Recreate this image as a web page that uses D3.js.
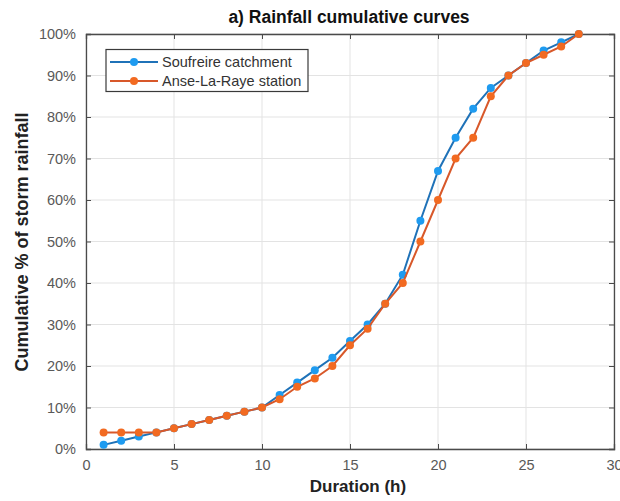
<!DOCTYPE html>
<html>
<head>
<meta charset="utf-8">
<script src="https://cdn.jsdelivr.net/npm/d3@7"></script>
<style>
  html, body { margin: 0; padding: 0; background: #fff; }
  svg { display: block; font-family: "Liberation Sans", Arial, sans-serif; }
</style>
</head>
<body>
<svg id="chart" width="620" height="501"></svg>
<script>
// Duration in hours
const hours = [1,2,3,4,5,6,7,8,9,10,11,12,13,14,15,16,17,18,19,20,21,22,23,24,25,26,27,28];
// Cumulative % of storm rainfall
const soufreire = [1,2,3,4,5,6,7,8,9,10,13,16,19,22,26,30,35,42,55,67,75,82,87,90,93,96,98,100];
const anseLaRaye = [4,4,4,4,5,6,7,8,9,10,12,15,17,20,25,29,35,40,50,60,70,75,85,90,93,95,97,100];
const seriesNames = ["Soufreire catchment", "Anse-La-Raye station"];
const xTicks = [0,5,10,15,20,25,30];
const yTicks = [0,10,20,30,40,50,60,70,80,90,100];

const series = [
  { name: seriesNames[0], values: soufreire, line: "#1f72b8", fill: "#1e9bf0" },
  { name: seriesNames[1], values: anseLaRaye, line: "#d8582a", fill: "#f26a21" }
];

const svg = d3.select("#chart");
const L = 86, R = 614, T = 34, B = 449;
const x = d3.scaleLinear().domain([0, 30]).range([L, R]);
const y = d3.scaleLinear().domain([0, 100]).range([B, T]);

// grid
const grid = svg.append("g").attr("stroke", "#e3e3e3").attr("stroke-width", 1);
xTicks.forEach(t => grid.append("line").attr("x1", x(t)).attr("x2", x(t)).attr("y1", T).attr("y2", B));
yTicks.forEach(t => grid.append("line").attr("x1", L).attr("x2", R).attr("y1", y(t)).attr("y2", y(t)));

// axes
const axisColor = "#4a4a4a";
const xAxis = svg.append("g").attr("transform", `translate(0,${B})`)
  .call(d3.axisBottom(x).tickValues(xTicks).tickSize(-5).tickPadding(11));
const yAxis = svg.append("g").attr("transform", `translate(${L},0)`)
  .call(d3.axisLeft(y).tickValues(yTicks).tickSize(-5).tickPadding(10).tickFormat(d => d + "%"));
const xTop = svg.append("g").attr("transform", `translate(0,${T})`)
  .call(d3.axisTop(x).tickValues(xTicks).tickSize(-5).tickFormat(""));
const yRight = svg.append("g").attr("transform", `translate(${R},0)`)
  .call(d3.axisRight(y).tickValues(yTicks).tickSize(-5).tickFormat(""));
[xAxis, yAxis, xTop, yRight].forEach(g => {
  g.select(".domain").attr("stroke", axisColor).attr("stroke-width", 1.3);
  g.selectAll(".tick line").attr("stroke", axisColor);
  g.selectAll(".tick text").attr("fill", "#595959").attr("font-size", 14.5)
    .attr("font-family", "'Liberation Sans', Arial, sans-serif");
});

// lines and markers
const line = d3.line().x((d, i) => x(hours[i])).y(d => y(d));
series.forEach(s => {
  svg.append("path").datum(s.values).attr("d", line)
    .attr("fill", "none").attr("stroke", s.line).attr("stroke-width", 2);
  svg.append("g").selectAll("circle").data(s.values).join("circle")
    .attr("cx", (d, i) => x(hours[i])).attr("cy", d => y(d)).attr("r", 4)
    .attr("fill", s.fill).attr("stroke", "none");
});

// legend
const lg = svg.append("g");
lg.append("rect").attr("x", 106).attr("y", 49.5).attr("width", 202).attr("height", 42)
  .attr("fill", "#fff").attr("stroke", "#3a3a3a").attr("stroke-width", 1.2);
series.forEach((s, i) => {
  const yy = 62 + i * 19;
  lg.append("line").attr("x1", 110).attr("x2", 158).attr("y1", yy).attr("y2", yy)
    .attr("stroke", s.line).attr("stroke-width", 2);
  lg.append("circle").attr("cx", 134).attr("cy", yy).attr("r", 4).attr("fill", s.fill);
  lg.append("text").attr("x", 162).attr("y", yy + 5).attr("font-size", 14.5)
    .attr("fill", "#333").text(s.name);
});

// titles
svg.append("text").attr("x", 349).attr("y", 23).attr("text-anchor", "middle")
  .attr("font-size", 17.5).attr("font-weight", "bold").attr("fill", "#111")
  .text("a) Rainfall cumulative curves");
svg.append("text").attr("x", 358).attr("y", 492).attr("text-anchor", "middle")
  .attr("font-size", 17).attr("font-weight", "bold").attr("fill", "#222")
  .text("Duration (h)");
svg.append("text").attr("transform", "translate(28,242) rotate(-90)").attr("text-anchor", "middle")
  .attr("font-size", 18).attr("font-weight", "bold").attr("fill", "#222")
  .text("Cumulative % of storm rainfall");
</script>
</body>
</html>
